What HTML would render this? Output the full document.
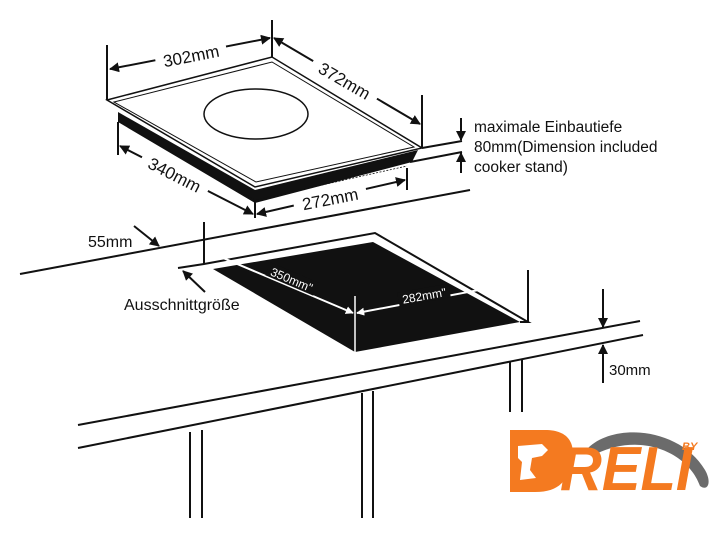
<!DOCTYPE html>
<html><head><meta charset="utf-8"><style>
html,body{margin:0;padding:0;background:#fff;}
svg{display:block;font-family:"Liberation Sans",Arial,sans-serif;}
</style></head><body>
<svg width="720" height="538" viewBox="0 0 720 538" xmlns="http://www.w3.org/2000/svg">
<defs>
<marker id="a" viewBox="0 0 10 10" refX="9" refY="5" markerWidth="5" markerHeight="5" orient="auto-start-reverse"><path d="M0,0 L10,5 L0,10 z" fill="#111"/></marker>
<marker id="w" viewBox="0 0 10 10" refX="9" refY="5" markerWidth="4" markerHeight="4" orient="auto-start-reverse"><path d="M0,0 L10,5 L0,10 z" fill="#fff"/></marker>
</defs>
<g stroke="#111" fill="none" stroke-width="2">
<line x1="20" y1="274" x2="470" y2="190"/>
<line x1="78" y1="425" x2="640" y2="321"/>
<line x1="78" y1="448" x2="643" y2="335"/>
<line x1="190" y1="432" x2="190" y2="518"/><line x1="202" y1="430" x2="202" y2="518"/>
<line x1="362" y1="393" x2="362" y2="518"/><line x1="373" y1="391" x2="373" y2="518"/>
<line x1="510" y1="362" x2="510" y2="412"/><line x1="522" y1="360" x2="522" y2="412"/>
</g>
<polygon points="213,269 373,242 520,322 355,352" fill="#111"/>
<polyline points="178,268 204,264 375,233 528,322 520,322" fill="none" stroke="#111" stroke-width="2"/>
<line x1="204" y1="222" x2="204" y2="264" stroke="#111" stroke-width="2"/>
<line x1="528" y1="270" x2="528" y2="322" stroke="#111" stroke-width="2"/>
<line x1="355" y1="296" x2="355" y2="352" stroke="#fff" stroke-width="1.5"/>
<line x1="209" y1="252" x2="353" y2="313" stroke="#fff" stroke-width="2" marker-start="url(#w)" marker-end="url(#w)"/>
<line x1="357" y1="313" x2="526" y2="281" stroke="#fff" stroke-width="2" marker-end="url(#w)" marker-start="url(#w)"/>
<rect x="266" y="272" width="52" height="14" fill="#111" transform="rotate(23 292 279)"/>
<text x="292" y="284" font-size="12" fill="#fff" text-anchor="middle" transform="rotate(23 292 279)">350mm"</text>
<rect x="398" y="288" width="52" height="14" fill="#111" transform="rotate(-10 424 295)"/>
<text x="424" y="300" font-size="12" fill="#fff" text-anchor="middle" transform="rotate(-10 424 295)">282mm"</text>
<line x1="205" y1="292" x2="183" y2="271" stroke="#111" stroke-width="2" marker-end="url(#a)"/>
<text x="124" y="310" font-size="16" fill="#111">Ausschnittgröße</text>
<line x1="134" y1="226" x2="159" y2="246" stroke="#111" stroke-width="2" marker-end="url(#a)"/>
<text x="88" y="247" font-size="16" fill="#111">55mm</text>
<line x1="603" y1="289" x2="603" y2="327" stroke="#111" stroke-width="2" marker-end="url(#a)"/>
<line x1="603" y1="383" x2="603" y2="345" stroke="#111" stroke-width="2" marker-end="url(#a)"/>
<text x="609" y="375" font-size="15" fill="#111">30mm</text>
<polygon points="118,112 255,190 418,150 412,162 255,203 118,122" fill="#111"/>
<polygon points="107,100 272,57 422,148 255,187" fill="#fff" stroke="#111" stroke-width="1.5"/>
<polygon points="114,102 272,62 414,147 256,182" fill="none" stroke="#111" stroke-width="1"/>
<ellipse cx="256" cy="114" rx="52" ry="25" fill="none" stroke="#111" stroke-width="1.5"/>
<polyline points="120,122 255,200 407,166" fill="none" stroke="#111" stroke-width="0.8" stroke-dasharray="2,1.5"/>
<g stroke="#111" stroke-width="2" fill="none">
<line x1="107" y1="45" x2="107" y2="100"/>
<line x1="272" y1="20" x2="272" y2="57"/>
<line x1="422" y1="95" x2="422" y2="148"/>
<line x1="118" y1="122" x2="118" y2="155"/>
<line x1="407" y1="168" x2="407" y2="190"/>
<line x1="255" y1="194" x2="255" y2="218"/>
<line x1="422" y1="148" x2="462" y2="141"/>
<line x1="410" y1="162" x2="462" y2="152"/>
</g>
<line x1="110" y1="69" x2="270" y2="38" stroke="#111" stroke-width="2" marker-start="url(#a)" marker-end="url(#a)"/>
<rect x="155" y="45" width="72" height="20" fill="#fff" transform="rotate(-11 191 55)"/>
<text x="191" y="62" font-size="17" fill="#111" text-anchor="middle" transform="rotate(-11 191 55)">302mm</text>
<line x1="274" y1="38" x2="420" y2="124" stroke="#111" stroke-width="2" marker-start="url(#a)" marker-end="url(#a)"/>
<rect x="308" y="70" width="74" height="20" fill="#fff" transform="rotate(30 345 80)"/>
<text x="345" y="87" font-size="17" fill="#111" text-anchor="middle" transform="rotate(30 345 80)">372mm</text>
<line x1="120" y1="146" x2="253" y2="214" stroke="#111" stroke-width="2" marker-start="url(#a)" marker-end="url(#a)"/>
<rect x="138" y="164" width="74" height="20" fill="#fff" transform="rotate(27 175 174)"/>
<text x="175" y="181" font-size="17" fill="#111" text-anchor="middle" transform="rotate(27 175 174)">340mm</text>
<line x1="257" y1="214" x2="405" y2="180" stroke="#111" stroke-width="2" marker-start="url(#a)" marker-end="url(#a)"/>
<rect x="293" y="188" width="74" height="20" fill="#fff" transform="rotate(-11 330 198)"/>
<text x="330" y="205" font-size="17" fill="#111" text-anchor="middle" transform="rotate(-11 330 198)">272mm</text>
<line x1="461" y1="118" x2="461" y2="140" stroke="#111" stroke-width="2" marker-end="url(#a)"/>
<line x1="461" y1="173" x2="461" y2="153" stroke="#111" stroke-width="2" marker-end="url(#a)"/>
<text x="474" y="132" font-size="15.5" fill="#111">maximale Einbautiefe</text>
<text x="474" y="152" font-size="15.5" fill="#111">80mm(Dimension included</text>
<text x="474" y="172" font-size="15.5" fill="#111">cooker stand)</text>
<!-- logo -->
<path d="M588,448 C615,422 680,428 705,470 C712,482 708,492 700,486 C688,452 640,432 596,454 z" fill="#6b6b6b"/>
<path d="M510,430 L545,430 C570,430 575,445 572,460 C568,480 560,492 535,492 L510,492 z" fill="#f47a20"/>
<path d="M518,446 L542,444 L548,450 L542,456 L532,458 L530,470 L536,478 L520,480 L522,462 L518,458 z" fill="#fff"/>
<text x="560" y="490" font-size="62" font-weight="bold" font-style="italic" fill="#f47a20" textLength="132" lengthAdjust="spacingAndGlyphs">RELI</text>
<text x="682" y="450" font-size="11" font-weight="bold" font-style="italic" fill="#f47a20">BY</text>
</svg>
</body></html>
